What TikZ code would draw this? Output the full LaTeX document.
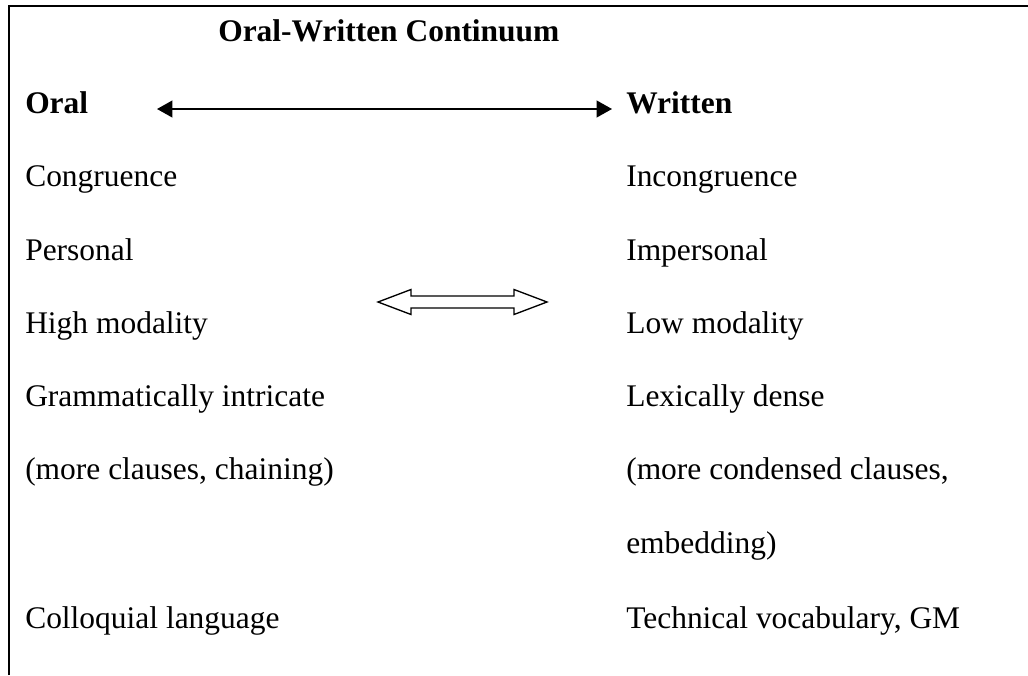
\documentclass[tikz,border=0pt]{standalone}
\usepackage{fontspec}
\setmainfont{Liberation Serif}
\usetikzlibrary{arrows.meta}
\begin{document}
\begin{tikzpicture}[x=0.75pt,y=-0.75pt,
  txt/.style={anchor=base west,inner sep=0pt,font=\fontsize{23.6}{28}\selectfont},
  btxt/.style={txt,font=\fontsize{23.6}{28}\selectfont\bfseries},
  frame/.style={line width=1.6pt},
  mainarrow/.style={line width=1.5pt,{Triangle[length=11.5pt,width=12.5pt]}-{Triangle[length=11.5pt,width=12.5pt]}},
  hollow/.style={line width=1pt,line join=miter}]
\useasboundingbox (0,0) rectangle (1028,675);
% frame
\draw[frame] (9,675) -- (9,6) -- (1028,6);
% title
\node[btxt] (title) at (218,41) {Oral-Written Continuum};
% headers
\node[btxt] (oral) at (25,113) {Oral};
\node[btxt] (written) at (626,113) {Written};
\coordinate (aL) at (157,109);
\coordinate (aR) at (612,109);
\draw[mainarrow] (aL) -- (aR);
% left column
\node[txt] (l1) at (25,186) {Congruence};
\node[txt] (l2) at (25,260) {Personal};
\node[txt] (l3) at (25,333) {High modality};
\node[txt] (l4) at (25,406) {Grammatically intricate};
\node[txt] (l5) at (25,479) {(more clauses, chaining)};
\node[txt] (l6) at (25,628) {Colloquial language};
% right column
\node[txt] (r1) at (626,186) {Incongruence};
\node[txt] (r2) at (626,260) {Impersonal};
\node[txt] (r3) at (626,333) {Low modality};
\node[txt] (r4) at (626,406) {Lexically dense};
\node[txt] (r5) at (626,479) {(more condensed clauses,};
\node[txt] (r6) at (626,553) {embedding)};
\node[txt] (r7) at (626,628) {Technical vocabulary, GM};
% hollow double arrow
\draw[hollow] (378,302) -- (411,289.5) -- (411,296) -- (514,296) -- (514,289.5)
  -- (547,302) -- (514,314.5) -- (514,308) -- (411,308) -- (411,314.5) -- cycle;
\end{tikzpicture}
\end{document}
